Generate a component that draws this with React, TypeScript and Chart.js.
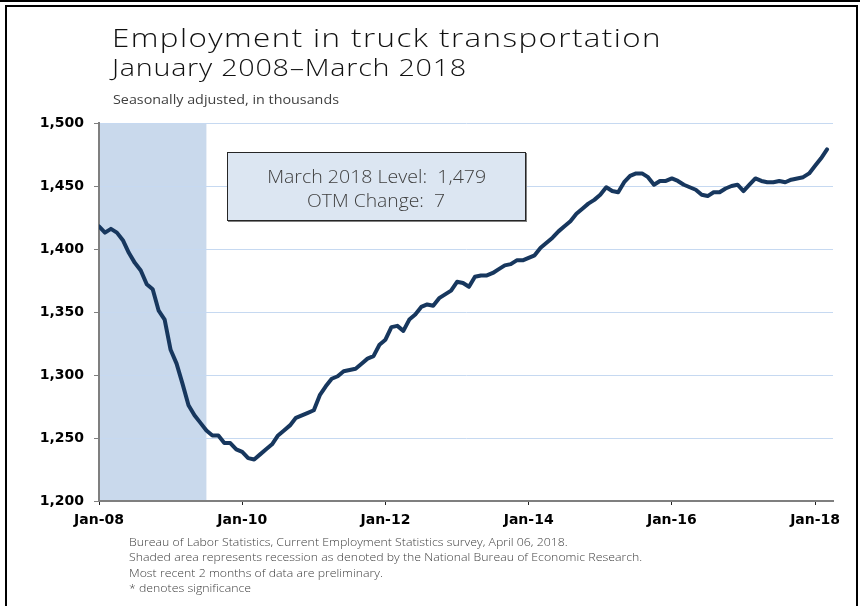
import React, { useEffect, useLayoutEffect, useRef } from "react";
import { Chart, registerables } from "chart.js";

Chart.register(...registerables);

// Monthly employment in truck transportation, Jan 2008 (index 0) to Mar 2018 (index 122), thousands
const employment: number[] = [
  1418, 1413, 1416, 1413, 1407, 1397, 1389, 1383, 1372, 1368, 1351, 1344,
  1320, 1309, 1293, 1276, 1268, 1262, 1256, 1252, 1252, 1246, 1246, 1241,
  1239, 1234, 1233, 1237, 1241, 1245, 1252, 1256, 1260, 1266, 1268, 1270,
  1272, 1284, 1291, 1297, 1299, 1303, 1304, 1305, 1309, 1313, 1315, 1324,
  1328, 1338, 1339, 1335, 1344, 1348, 1354, 1356, 1355, 1361, 1364, 1367,
  1374, 1373, 1370, 1378, 1379, 1379, 1381, 1384, 1387, 1388, 1391, 1391,
  1393, 1395, 1401, 1405, 1409, 1414, 1418, 1422, 1428, 1432, 1436, 1439,
  1443, 1449, 1446, 1445, 1453, 1458, 1460, 1460, 1457, 1451, 1454, 1454,
  1456, 1454, 1451, 1449, 1447, 1443, 1442, 1445, 1445, 1448, 1450, 1451,
  1446, 1451, 1456, 1454, 1453, 1453, 1454, 1453, 1455, 1456, 1457, 1460,
  1466, 1472, 1479,
];

// x axis: months since Jan 2008
const xMin = 0;
const xMax = 123;
const xTickMonths = [0, 24, 48, 72, 96, 120];
const xTickLabels = ["Jan-08", "Jan-10", "Jan-12", "Jan-14", "Jan-16", "Jan-18"];

// y axis
const yMin = 1200;
const yMax = 1500;
const yTicks = [1200, 1250, 1300, 1350, 1400, 1450, 1500];

// recession shading (months since Jan 2008)
const recessionStart = 0;
const recessionEnd = 18;

const titleText = "Employment in truck transportation";
const subtitleText = "January 2008\u2013March 2018";
const unitText = "Seasonally adjusted, in thousands";
const calloutLines = ["March 2018 Level:  1,479", "OTM Change:  7"];
const footnotes = [
  "Bureau of Labor Statistics, Current Employment Statistics survey, April 06, 2018.",
  "Shaded area represents recession as denoted by the National Bureau of Economic Research.",
  "Most recent 2 months of data are preliminary.",
  "* denotes significance",
];

const LIGHT = "'Open Sans', 'DejaVu Sans', sans-serif";
const AXIS_FONT = { family: "'DejaVu Sans', Verdana, sans-serif", size: 14, weight: "bold" as const };

const recessionPlugin = {
  id: "recessionShade",
  beforeDraw(chart: any) {
    const { ctx, scales } = chart;
    const x = scales.x;
    const y = scales.y;
    const x0 = x.getPixelForValue(recessionStart);
    const x1 = x.getPixelForValue(recessionEnd);
    const y0 = y.getPixelForValue(yMax);
    const y1 = y.getPixelForValue(yMin);
    ctx.save();
    ctx.fillStyle = "#c9d9ec";
    ctx.fillRect(x0, y0, x1 - x0, y1 - y0);
    ctx.restore();
  },
};

// Text that is horizontally scaled so that it spans a given width
function FitText(props: { width: number; origin?: string; style: React.CSSProperties; children: React.ReactNode }) {
  const ref = useRef<HTMLDivElement | null>(null);
  useLayoutEffect(() => {
    const el = ref.current;
    if (!el) return;
    el.style.transform = "none";
    const w = el.getBoundingClientRect().width;
    if (w > 0) el.style.transform = `scaleX(${props.width / w})`;
  }, [props.width]);
  return (
    <div
      ref={ref}
      style={{
        display: "inline-block",
        whiteSpace: "pre",
        transformOrigin: props.origin || "left top",
        ...props.style,
      }}
    >
      {props.children}
    </div>
  );
}

export default function App() {
  const canvasRef = useRef<HTMLCanvasElement | null>(null);

  useEffect(() => {
    const canvas = canvasRef.current;
    if (!canvas) return;
    const chart = new Chart(canvas, {
      type: "line",
      data: {
        datasets: [
          {
            data: employment.map((v, i) => ({ x: i, y: v })),
            borderColor: "#17375e",
            borderWidth: 4,
            pointRadius: 0,
            tension: 0,
            borderJoinStyle: "round",
            borderCapStyle: "round",
            fill: false,
          },
        ],
      },
      options: {
        responsive: false,
        animation: false,
        devicePixelRatio: 1,
        layout: { padding: { left: 0, top: 123, right: 27, bottom: 0 } },
        plugins: {
          legend: { display: false },
          tooltip: { enabled: false },
          title: { display: false },
        },
        scales: {
          x: {
            type: "linear",
            min: xMin,
            max: xMax,
            afterBuildTicks: (s: any) => {
              s.ticks = xTickMonths.map((v) => ({ value: v }));
            },
            afterFit: (s: any) => {
              s.height = 105;
            },
            border: { color: "#7f7f7f", width: 2 },
            grid: { drawOnChartArea: false, tickColor: "#222", tickLength: 4, lineWidth: 1 },
            ticks: {
              font: AXIS_FONT,
              color: "#000",
              padding: 7,
              maxRotation: 0,
              autoSkip: false,
              callback: (_v: any, i: number) => xTickLabels[i],
            },
          },
          y: {
            min: yMin,
            max: yMax,
            afterBuildTicks: (s: any) => {
              s.ticks = yTicks.map((v) => ({ value: v }));
            },
            afterFit: (s: any) => {
              s.width = 99;
            },
            border: { color: "#7f7f7f", width: 2 },
            grid: { color: "#c6d9f1", lineWidth: 1, tickColor: "#7f7f7f", tickLength: 5 },
            ticks: {
              font: AXIS_FONT,
              color: "#000",
              padding: 10,
              callback: (v: any) => Number(v).toLocaleString("en-US"),
            },
          },
        },
      },
      plugins: [recessionPlugin],
    });
    return () => chart.destroy();
  }, []);

  const abs = (s: React.CSSProperties): React.CSSProperties => ({ position: "absolute", ...s });

  return (
    <div style={abs({ left: 0, top: 0, width: 860, height: 606, overflow: "hidden", background: "#fff" })}>
      <canvas ref={canvasRef} width={860} height={606} style={abs({ left: 0, top: 0, width: 860, height: 606 })} />
      {/* frame */}
      <div style={abs({ left: 0, top: 0, width: 860, height: 2, background: "#000" })} />
      <div style={abs({ left: 5, top: 5, width: 849, height: 640, border: "2px solid #000", boxSizing: "content-box" })} />
      {/* titles */}
      <div style={abs({ left: 112, top: 24 })}>
        <FitText width={550} style={{ fontFamily: LIGHT, fontWeight: 300, fontSize: 26.5, lineHeight: "26px", color: "#111", letterSpacing: 1.2 }}>
          {titleText}
        </FitText>
      </div>
      <div style={abs({ left: 112, top: 56 })}>
        <FitText width={355} style={{ fontFamily: LIGHT, fontWeight: 300, fontSize: 23, lineHeight: "23px", color: "#111", letterSpacing: 0.6 }}>
          {subtitleText}
        </FitText>
      </div>
      <div style={abs({ left: 113, top: 90 })}>
        <FitText width={226} style={{ fontFamily: LIGHT, fontWeight: 400, fontSize: 12.5, lineHeight: "13px", color: "#404040" }}>
          {unitText}
        </FitText>
      </div>
      {/* callout */}
      <div
        style={abs({
          left: 227,
          top: 152,
          width: 299,
          height: 69,
          background: "#dce6f2",
          border: "1px solid #262626",
          boxShadow: "1px 1px 0 #7f7f7f",
          boxSizing: "border-box",
        })}
      >
        {calloutLines.map((l, i) => (
          <div key={i} style={abs({ left: 0, width: 297, top: 11 + i * 24, textAlign: "center" })}>
            <FitText
              width={i === 0 ? 219 : 138}
              origin="center top"
              style={{ fontFamily: LIGHT, fontWeight: 300, fontSize: 18.5, lineHeight: "24px", color: "#404040" }}
            >
              {l}
            </FitText>
          </div>
        ))}
      </div>
      {/* footnotes */}
      {footnotes.map((f, i) => (
        <div
          key={i}
          style={abs({
            left: 129,
            top: 534 + i * 15.3,
            fontFamily: LIGHT,
            fontWeight: 300,
            fontSize: 11.3,
            lineHeight: "15px",
            color: "#404040",
            whiteSpace: "nowrap",
            transform: "scaleX(1.09)",
            transformOrigin: "left top",
          })}
        >
          {f}
        </div>
      ))}
    </div>
  );
}
